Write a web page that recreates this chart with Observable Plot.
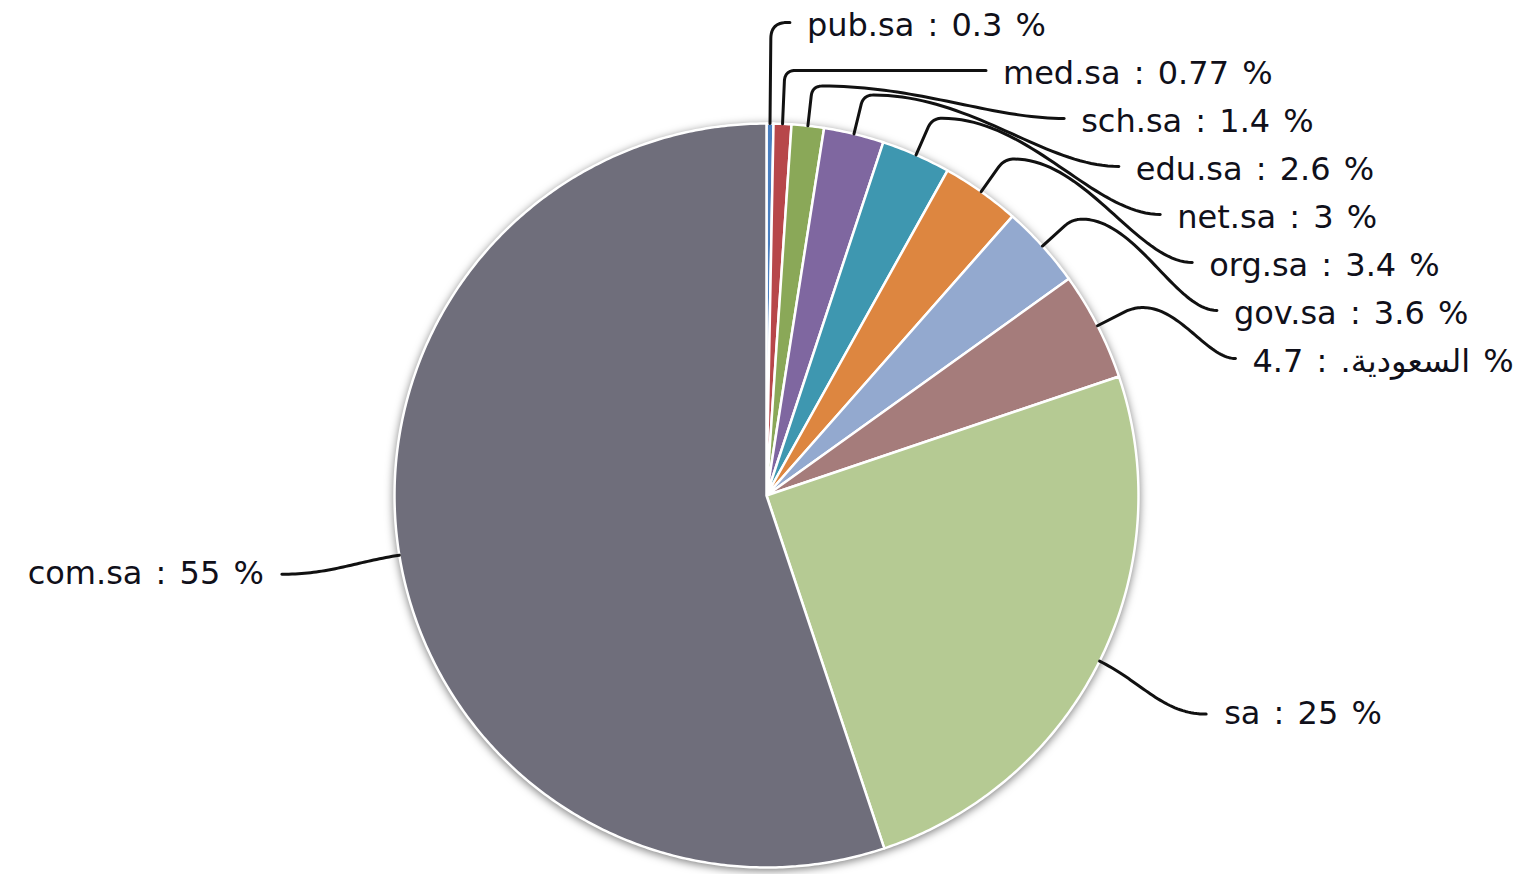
<!DOCTYPE html>
<html>
<head>
<meta charset="utf-8">
<script src="https://cdn.jsdelivr.net/npm/d3@7"></script>
<script src="https://cdn.jsdelivr.net/npm/@observablehq/plot@0.6"></script>
<style>
  html, body { margin: 0; padding: 0; background: #fff; }
  #chart svg { display: block; }
</style>
</head>
<body>
<div id="chart"></div>
<script>
// ---- data ----
const names = ["pub.sa", "med.sa", "sch.sa", "edu.sa", "net.sa", "org.sa", "gov.sa", "السعودية.", "sa", "com.sa"];
const values = [0.3, 0.77, 1.4, 2.6, 3, 3.4, 3.6, 4.7, 25, 55];
const colors = ["#4a7fc0", "#b7474a", "#8aa858", "#7f67a0", "#3e97b0", "#dd8640", "#93a9cf", "#a57c7b", "#b5ca93", "#6f6e7b"];

// ---- layout ----
const W = 1524, H = 874;
const cx = 766, cy = 495, R = 372, elbowR = 412, bigR = 491;
const total = d3.sum(values);
const polar = (r, a) => [cx + r * Math.sin(a), cy - r * Math.cos(a)];

let acc = 0;
const slices = values.map((v, i) => {
  const a0 = acc / total * 2 * Math.PI;
  acc += v;
  const a1 = acc / total * 2 * Math.PI;
  return {name: names[i], value: v, a0, a1, mid: (a0 + a1) / 2, i};
});

// slice polygons
const slicePts = [];
for (const s of slices) {
  slicePts.push({name: s.name, x: cx, y: cy});
  const n = Math.max(2, Math.ceil((s.a1 - s.a0) / (Math.PI / 360)));
  for (let k = 0; k <= n; k++) {
    const [x, y] = polar(R, s.a0 + (s.a1 - s.a0) * k / n);
    slicePts.push({name: s.name, x, y});
  }
}

function quad(p0, c, p1, n = 12) {
  const out = [];
  for (let k = 0; k <= n; k++) {
    const t = k / n, u = 1 - t;
    out.push([u*u*p0[0] + 2*u*t*c[0] + t*t*p1[0], u*u*p0[1] + 2*u*t*c[1] + t*t*p1[1]]);
  }
  return out;
}
function cubic(p0, c1, c2, p1, n = 40) {
  const out = [];
  for (let k = 0; k <= n; k++) {
    const t = k / n, u = 1 - t;
    out.push([
      u*u*u*p0[0] + 3*u*u*t*c1[0] + 3*u*t*t*c2[0] + t*t*t*p1[0],
      u*u*u*p0[1] + 3*u*u*t*c1[1] + 3*u*t*t*c2[1] + t*t*t*p1[1]
    ]);
  }
  return out;
}

const leaderPts = [];
const labelsStart = [], labelsEnd = [];
const labelText = s => `${s.name} : ${s.value} %`;

for (const s of slices) {
  const dir = [Math.sin(s.mid), -Math.cos(s.mid)];
  const p0 = polar(R, s.mid);
  let pts;
  if (s.i < 8) {
    // stacked labels on the upper right
    const ly = 25 + 48 * s.i;
    const Rl = 472 + 35 * Math.sqrt(s.i / 7);
    const lx = cx + Math.sqrt(Math.max(0, Rl * Rl - (ly - cy) ** 2));
    const end = [lx - 20, ly - 3];
    const p1 = polar(elbowR, s.mid);
    if (end[1] < p1[1] - 5) {
      const h = p1[1] - end[1];
      const q = [p1[0] + dir[0] * (h / -dir[1]), end[1]];
      const rc = Math.min(16, h * 0.8);
      const a = [q[0] - dir[0] * rc, q[1] - dir[1] * rc];
      const b = [q[0] + rc, q[1]];
      pts = [p0, a, ...quad(a, q, b), end];
    } else {
      const rc = 10;
      const a = [p1[0] - dir[0] * rc, p1[1] - dir[1] * rc];
      const b = [p1[0] + rc, p1[1]];
      const dx = end[0] - b[0];
      pts = [p0, a, ...quad(a, p1, b), ...cubic(b, [b[0] + 0.4 * dx, b[1]], [end[0] - 0.3 * dx, end[1]], end)];
    }
    labelsStart.push({x: lx - 3, y: ly, text: labelText(s)});
  } else {
    const end = polar(bigR, s.mid);
    const side = Math.sign(dir[0]);
    const dist = Math.hypot(end[0] - p0[0], end[1] - p0[1]);
    const c1 = [p0[0] + dir[0] * 0.4 * dist, p0[1] + dir[1] * 0.4 * dist];
    const c2 = [end[0] - side * 0.4 * Math.abs(end[0] - p0[0]), end[1]];
    pts = cubic(p0, c1, c2, end);
    const lab = {x: end[0] + side * 18, y: end[1], text: labelText(s)};
    (side > 0 ? labelsStart : labelsEnd).push(lab);
  }
  for (const [x, y] of pts) leaderPts.push({name: s.name, x, y});
}

const font = "DejaVu Sans";
const chart = Plot.plot({
  width: W,
  height: H,
  margin: 0,
  x: {domain: [0, W], range: [0, W], axis: null},
  y: {domain: [0, H], range: [0, H], axis: null},
  color: {domain: names, range: colors},
  style: "background:#fff; word-spacing:3px;",
  marks: [
    Plot.line(slicePts, {x: "x", y: "y", z: "name", fill: "name", stroke: "#fff", strokeWidth: 2.5, curve: "linear-closed", strokeLinejoin: "round"}),
    Plot.line(leaderPts, {x: "x", y: "y", z: "name", stroke: "#111", strokeWidth: 3, strokeLinecap: "round", strokeLinejoin: "round"}),
    Plot.text(labelsStart, {x: "x", y: "y", text: "text", textAnchor: "start", fontSize: 32, fontFamily: font, fill: "#10101a"}),
    Plot.text(labelsEnd, {x: "x", y: "y", text: "text", textAnchor: "end", fontSize: 32, fontFamily: font, fill: "#10101a"})
  ]
});
const sliceGroup = chart.querySelector('g[aria-label="line"]');
if (sliceGroup) sliceGroup.style.filter = "drop-shadow(0px 2px 4px rgba(0,0,0,0.5))";
document.getElementById("chart").appendChild(chart);
</script>
</body>
</html>
